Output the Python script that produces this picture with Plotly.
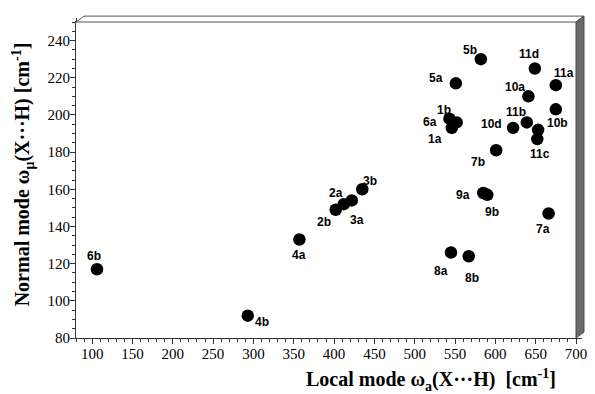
import plotly.graph_objects as go

# ---- data ----
labels = ["6b", "4b", "4a", "2b", "2a", "3a", "3b", "8a", "8b", "9a", "9b", "7a", "7b",
          "11c", "10c", "11d", "11a", "10a", "10b", "11b", "10d", "5b", "5a", "1b", "6a", "1a"]
local_mode = [106, 293, 357, 402, 412, 422, 435, 545, 567, 585, 590, 666, 601,
              652, 653, 649, 675, 641, 675, 639, 622, 582, 551, 543, 552, 546]
normal_mode = [117, 92, 133, 149, 152, 154, 160, 126, 124, 158, 157, 147, 181,
               187, 192, 225, 216, 210, 203, 196, 193, 230, 217, 198, 196, 193]

x_ticks = list(range(100, 701, 50))
y_ticks = list(range(80, 241, 20))

# ---- styling: label offsets in pixels (dx right, dy down); None = not labelled ----
label_offsets = {
    "6b": (-3, -13), "4b": (14, 6), "4a": (0, 16), "2b": (-12, 12), "2a": (-8, -11),
    "3a": (5, 20), "3b": (8, -8), "8a": (-10, 19), "8b": (3, 22), "9a": (-20, 2),
    "9b": (5, 17), "7a": (-6, 16), "7b": (-18, 12), "11c": (3, 15), "10c": None,
    "11d": (-6, -14), "11a": (8, -12), "10a": (-13, -9), "10b": (2, 14), "11b": (-11, -10),
    "10d": (-22, -4), "5b": (-11, -9), "5a": (-20, -5), "1b": (-5, -9), "6a": (-27, 0),
    "1a": (-17, 11),
}

# page body adds an 8px offset; figure is sized so the plot lands where the reference has it
OFF = 8
W, H = 595 - OFF, 394 - OFF
PL, PR, PT, PB = 76, 578, 16, 338          # plot box in window pixels
L, R, T, B = PL - OFF, OFF + W - PR, PT - OFF, OFF + H - PB
pw, ph = PR - PL, PB - PT


def px(xp):
    return (xp - PL) / pw


def py(yp):
    return (PB - yp) / ph


fig = go.Figure()
fig.add_trace(go.Scatter(
    x=local_mode, y=normal_mode, mode="markers",
    marker=dict(size=12.5, color="black"),
    hoverinfo="text", text=labels, showlegend=False,
))

annotations = []
for lab, xv, yv in zip(labels, local_mode, normal_mode):
    off = label_offsets.get(lab)
    if off is None:
        continue
    annotations.append(dict(
        x=xv, y=yv, xref="x", yref="y", text="<b>" + lab + "</b>", showarrow=False,
        xshift=off[0], yshift=-off[1], xanchor="center", yanchor="middle",
        font=dict(family="Liberation Sans, Arial, sans-serif", size=12, color="black"),
    ))

annotations.append(dict(
    x=px(432), y=py(381), xref="paper", yref="paper", showarrow=False,
    xanchor="center", yanchor="middle",
    text="<b>Local mode ω<sub>a</sub>(X···H)  [cm<sup>-1</sup>]</b>",
    font=dict(family="Liberation Serif, Times New Roman, serif", size=20, color="black"),
))
annotations.append(dict(
    x=px(23), y=py(171), xref="paper", yref="paper", showarrow=False, textangle=-90,
    xanchor="center", yanchor="middle",
    text="<b>Normal mode ω<sub>μ</sub>(X···H) [cm<sup>-1</sup>]</b>",
    font=dict(family="Liberation Serif, Times New Roman, serif", size=20, color="black"),
))

# 3D frame: top strip and dark right side panel
d_x, d_y = 8, 6
top_path = (f"M {px(PL)} {py(PT)} L {px(PL + d_x)} {py(PT - d_y)} "
            f"L {px(PR + d_x)} {py(PT - d_y)} L {px(PR)} {py(PT)} Z")
side_path = (f"M {px(PR)} {py(PT)} L {px(PR + d_x)} {py(PT - d_y)} "
             f"L {px(PR + d_x)} {py(PB - d_y)} L {px(PR)} {py(PB)} Z")
shapes = [
    dict(type="path", path=top_path, xref="paper", yref="paper",
         fillcolor="white", line=dict(color="#555555", width=1), layer="above"),
    dict(type="path", path=side_path, xref="paper", yref="paper",
         fillcolor="#6a6a6a", line=dict(color="#444444", width=1), layer="above"),
]

axis_font = dict(family="Liberation Serif, Times New Roman, serif", size=15, color="black")
common = dict(ticks="outside", ticklen=5, tickcolor="#333", showline=True,
              linecolor="#333", linewidth=1, mirror="allticks", showgrid=False,
              zeroline=False, tickfont=axis_font, ticklabelstandoff=-3)
fig.update_layout(
    width=W, height=H,
    margin=dict(l=L, r=R, t=T, b=B),
    paper_bgcolor="white", plot_bgcolor="white",
    annotations=annotations, shapes=shapes,
    xaxis=dict(range=[80, 700], tickvals=x_ticks,
               minor=dict(dtick=10, ticks="outside", ticklen=3, tickcolor="#333"), **common),
    yaxis=dict(range=[80, 250], tickvals=y_ticks,
               minor=dict(dtick=5, ticks="outside", ticklen=3, tickcolor="#333"), **common),
)

fig.write_html("out.html")
